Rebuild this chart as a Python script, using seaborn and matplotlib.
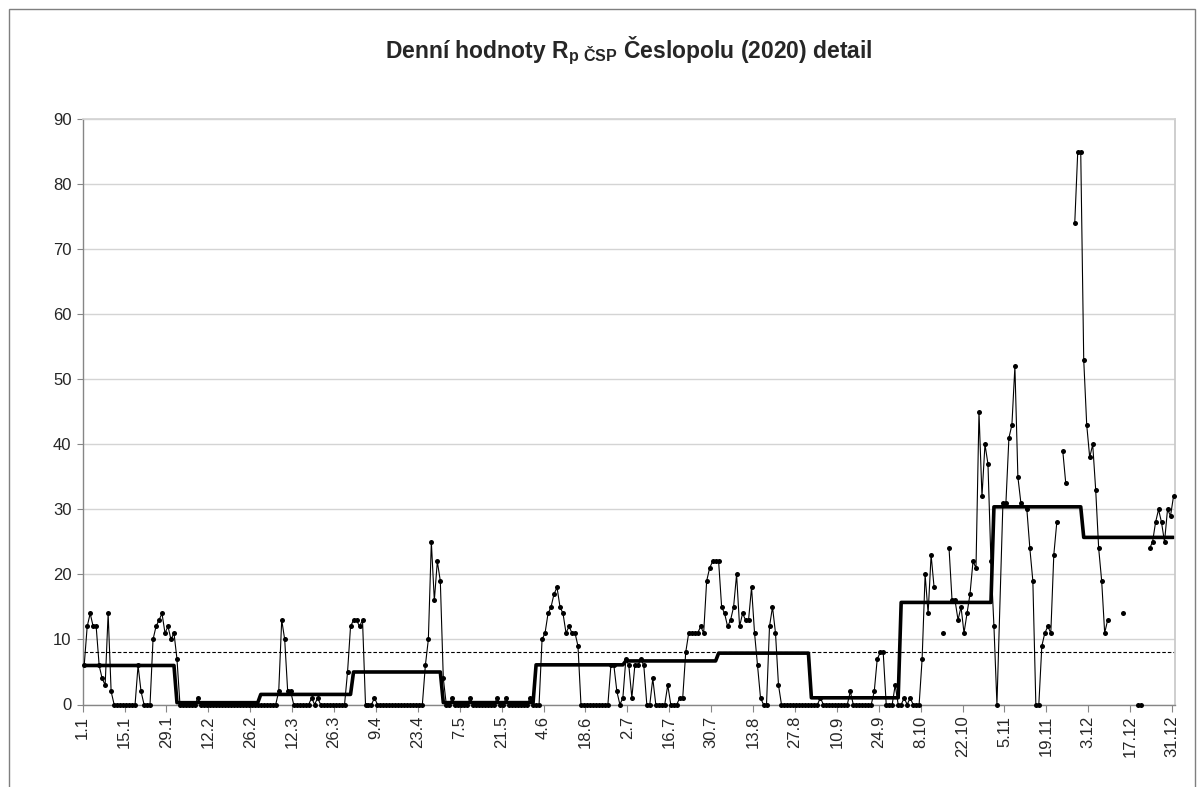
import numpy as np
import pandas as pd
import matplotlib
matplotlib.use("Agg")
import matplotlib.pyplot as plt
import seaborn as sns
from matplotlib.patches import Rectangle

# Daily values. None = empty cell (gap in the line),
# np.nan = #N/A cell (line continues across it, no marker).
jan = [6, 12, 14, 12, 12, 6, 4, 3, 14, 2, 0, 0, 0, 0, 0, 0, 0, 0, 6, 2, 0, 0, 0,
       10, 12, 13, 14, 11, 12, 10, 11]
feb = [7, 0, 0, 0, 0, 0, 0, 1, 0, 0, 0, 0, 0, 0, 0, 0, 0, 0, 0, 0, 0, 0, 0, 0,
       0, 0, 0, 0]
mar = [0, 0, 0, 0, 0, 0, 2, 13, 10, 2, 2, 0, 0, 0, 0, 0, 0, 1, 0, 1, 0, 0, 0, 0,
       0, 0, 0, 0, 0, 5, 12]
apr = [13, 13, 12, 13, 0, 0, 0, 1, 0, 0, 0, 0, 0, 0, 0, 0, 0, 0, 0, 0, 0, 0, 0,
       0, 6, 10, 25, 16, 22, 19]
may = [4, 0, 0, 1, 0, 0, 0, 0, 0, 1, 0, 0, 0, 0, 0, 0, 0, 0, 1, 0, 0, 1, 0, 0,
       0, 0, 0, 0, 0, 1, 0]
jun = [0, 0, 10, 11, 14, 15, 17, 18, 15, 14, 11, 12, 11, 11, 9, 0, 0, 0, 0, 0,
       0, 0, 0, 0, 0, 6, 6, 2, 0, 1]
jul = [7, 6, 1, 6, 6, 7, 6, 0, 0, 4, 0, 0, 0, 0, 3, 0, 0, 0, 1, 1, 8, 11, 11, 11,
       11, 12, 11, 19, 21, 22, 22]
aug = [22, 15, 14, 12, 13, 15, 20, 12, 14, 13, 13, 18, 11, 6, 1, 0, 0, 12, 15,
       11, 3, 0, 0, 0, 0, 0, 0, 0, 0, 0, 0]
sep = [0, 0, 0, 1, 0, 0, 0, 0, 0, 0, 0, 0, 0, 2, 0, 0, 0, 0, 0, 0, 0, 2, 7, 8, 8,
       0, 0, 0, 3, 0]
octo = [0, 1, 0, 1, 0, 0, 0, 7, 20, 14, 23, 18, None, None, 11, None, 24, 16, 16,
        13, 15, 11, 14, 17, 22, 21, 45, 32, 40, 37, 22]
nov = [12, 0, np.nan, 31, 31, 41, 43, 52, 35, 31, np.nan, 30, 24, 19, 0, 0, 9, 11,
       12, 11, 23, 28, None, 39, 34, None, None, 74, 85, 85]
dec = [53, 43, 38, 40, 33, 24, 19, 11, 13, None, None, None, None, 14, None, None,
       None, None, 0, 0, None, None, 24, 25, 28, 30, 28, 25, 30, 29, 32]

monthly_mean = [6.0, 0.28, 1.55, 5.0, 0.29, 6.1, 6.7, 7.9, 1.03, 15.7, 30.4, 25.7]
annual_mean = 8.1

tick_labels = ["1.1", "15.1", "29.1", "12.2", "26.2", "12.3", "26.3", "9.4",
               "23.4", "7.5", "21.5", "4.6", "18.6", "2.7", "16.7", "30.7",
               "13.8", "27.8", "10.9", "24.9", "8.10", "22.10", "5.11", "19.11",
               "3.12", "17.12", "31.12"]

title = r"Denní hodnoty $\mathbf{R}_{\mathbf{p\ ČSP}}$ Česlopolu (2020) detail"

months = [jan, feb, mar, apr, may, jun, jul, aug, sep, octo, nov, dec]
daily = [v for m in months for v in m]
n_days = len(daily)

# build segments (break at empty cells)
rows = []
seg = 0
for d, v in enumerate(daily):
    if v is None:
        seg += 1
        continue
    if isinstance(v, float) and np.isnan(v):
        continue
    rows.append((d, float(v), seg))
df = pd.DataFrame(rows, columns=["day", "value", "seg"])

mdf = pd.DataFrame({
    "day": np.arange(n_days),
    "mean": np.repeat(monthly_mean, [len(m) for m in months]),
    "annual": np.full(n_days, annual_mean),
})

sns.set_theme(style="white")
plt.rcParams["font.family"] = ["Liberation Sans", "DejaVu Sans"]
plt.rcParams["mathtext.fontset"] = "custom"
plt.rcParams["mathtext.rm"] = "Liberation Sans"
plt.rcParams["mathtext.bf"] = "Liberation Sans:bold"

W, H = 1203, 787
fig = plt.figure(figsize=(W / 100, H / 100), dpi=100)
fig.patch.set_facecolor("white")
left, right, top, bottom = 82.7, 1175, 119.3, 704.5
ax = fig.add_axes([left / W, 1 - bottom / H, (right - left) / W, (bottom - top) / H])

ax.set_ylim(0, 90)
ax.set_xlim(-0.5, n_days - 0.5)
ax.set_yticks(np.arange(0, 91, 10))
ax.yaxis.grid(True, color="#d4d4d4", lw=1.0)
ax.set_axisbelow(True)

sns.lineplot(data=mdf, x="day", y="annual", color="black", lw=0.8,
             linestyle=(0, (3.2, 1.8)), ax=ax, legend=False)
sns.lineplot(data=mdf, x="day", y="mean", color="black", lw=2.6, ax=ax,
             legend=False)
sns.lineplot(data=df, x="day", y="value", units="seg", estimator=None,
             color="black", lw=0.8, marker="o", markersize=3.6,
             markeredgewidth=0, clip_on=False, ax=ax, legend=False, zorder=5)

ax.set_xticks(np.arange(0, n_days, 14) - 0.5)
ax.set_xticklabels(tick_labels, rotation=90, fontsize=12)
ax.tick_params(axis="x", direction="out", length=5, width=0.8, color="#868686",
               pad=3, bottom=True)
ax.tick_params(axis="y", direction="out", length=4, width=0.8, color="#868686",
               labelsize=12, pad=4, left=True)
ax.set_xlabel("")
ax.set_ylabel("")

for s in ["left", "bottom"]:
    ax.spines[s].set_color("#868686")
    ax.spines[s].set_linewidth(1.0)
ax.spines["right"].set_color("#c8c8c8")
ax.spines["top"].set_color("#d4d4d4")

fig.text((left + right) / 2 / W, 1 - 51 / H, title, ha="center", va="center",
         fontsize=16.5, fontweight="bold")

fig.patches.append(Rectangle((8.5, -20), 1186, H - 8.5 + 20, transform=None,
                             fill=False, edgecolor="#7f7f7f", lw=1.0))

fig.savefig("out.png", dpi=100)
